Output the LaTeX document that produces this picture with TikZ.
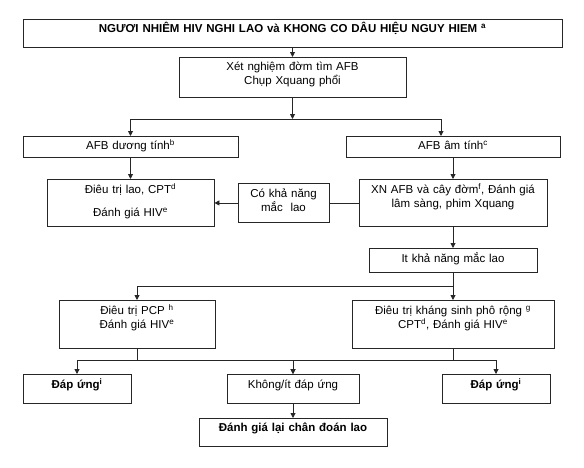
\documentclass[tikz,border=0pt]{standalone}
\usepackage{fontspec}
\setmainfont{Liberation Sans}
\usetikzlibrary{arrows.meta}

\begin{document}
\begin{tikzpicture}[x=1pt, y=-1pt,
  font=\fontsize{11.5}{14}\selectfont,
  box/.style={draw=black!85, line width=0.9pt, anchor=north, inner sep=0pt, align=center, text height=14pt},
  bbox/.style={box, font=\fontsize{11.5}{14}\selectfont\bfseries},
  arr/.style={-{Triangle[length=5pt,width=5pt]}, line width=0.9pt, black!85},
  ln/.style={line width=0.9pt, black!85}]
  \useasboundingbox (0,0) rectangle (584,467);
  \node[bbox, text width=539pt, text height=13pt, text depth=15pt] (title) at (292.5,19) {NGƯƠI NHIÊM HIV NGHI LAO và KHONG CO DÂU HIỆU NGUY HIEM \textsuperscript{a}};
  \node[box, text width=227pt, text height=13.5pt, text depth=26.5pt] (xn1) at (292.5,57) {Xét nghiệm đờm tìm AFB\\Chụp Xquang phổi};
  \node[box, text width=215pt, text height=13.5pt, text depth=7.5pt] (afbpos) at (130.5,136) {AFB dương tính\textsuperscript{b}};
  \node[box, text width=214pt, text height=13.5pt, text depth=7.5pt] (afbneg) at (453,136) {AFB âm tính\textsuperscript{c}};
  \node[box, text width=167pt, text height=14.5pt, text depth=32.5pt] (dtlao) at (130.5,179) {Điêu trị lao, CPT\textsuperscript{d}\\[8.5pt]Đánh giá HIV\textsuperscript{e}};
  \node[box, text width=91pt, text depth=25pt] (cokn) at (283.5,183) {Có khả năng\\mắc~ lao};
  \node[box, text width=188pt, text depth=33pt] (xnafb) at (453,179) {XN AFB và cây đờm\textsuperscript{f}, Đánh giá\\lâm sàng, phim Xquang};
  \node[box, text width=168pt, text depth=10pt] (itkn) at (453,248) {It khả năng mắc lao};
  \node[box, text width=156pt, text depth=34pt] (pcp) at (137,300) {Điêu trị PCP \textsuperscript{h}\\Đánh giá HIV\textsuperscript{e}};
  \node[box, text width=202pt, text depth=34pt] (ksinh) at (453,300) {Điêu trị kháng sinh phô rộng \textsuperscript{g}\\CPT\textsuperscript{d}, Đánh giá HIV\textsuperscript{e}};
  \node[bbox, text width=108pt, text depth=15pt] (dapL) at (77,374) {Đáp ứng\textsuperscript{i}};
  \node[box, text width=132pt, text depth=15pt] (khong) at (293,374) {Không/ít đáp ứng};
  \node[bbox, text width=108pt, text depth=15pt] (dapR) at (496,374) {Đáp ứng\textsuperscript{i}};
  \node[bbox, text width=188pt, text height=13pt, text depth=15pt] (dglai) at (293,418) {Đánh giá lại chân đoán lao};
  \coordinate (split) at (292.5,119);
  \coordinate (split2) at (453,286);
  \coordinate (busL) at (137,360);
  \coordinate (busR) at (453,360);
  \draw[arr] (title) -- (xn1);
  \draw[arr] (xn1) -- (split);
  \draw[arr] (split) -| (afbpos);
  \draw[arr] (split) -| ([xshift=-12pt]afbneg.north);
  \foreach \a/\b in {afbpos/dtlao, afbneg/xnafb, xnafb/itkn, itkn/ksinh, khong/dglai} \draw[arr] (\a) -- (\b);
  \draw[ln] (xnafb) -- (cokn);
  \draw[arr] (cokn) -- (dtlao);
  \draw[arr] (split2) -| (pcp);
  \draw[ln] (pcp) -- (busL); \draw[ln] (ksinh) -- (busR);
  \foreach \a/\b in {busL/dapL, busL/khong, busR/khong, busR/dapR} \draw[arr] (\a) -| (\b);
\end{tikzpicture}
\end{document}
